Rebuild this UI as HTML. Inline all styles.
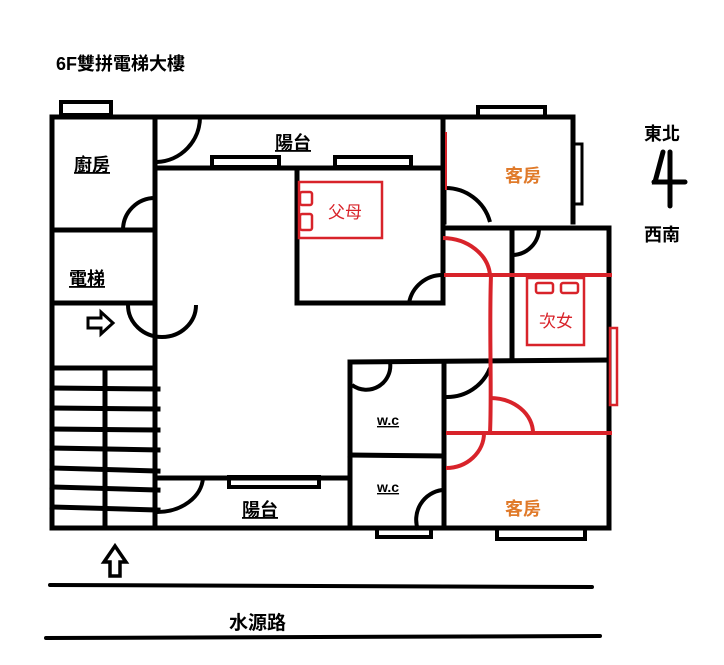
<!DOCTYPE html>
<html><head><meta charset="utf-8"><style>
html,body{margin:0;padding:0;background:#fff;}
svg{display:block;}
text{font-family:"Liberation Sans","Noto Sans CJK TC",sans-serif;}
</style></head><body>
<svg width="724" height="665" viewBox="0 0 724 665" xmlns="http://www.w3.org/2000/svg">
<rect width="724" height="665" fill="#fff"/>
<text x="56" y="70" font-size="18" font-weight="bold" fill="#000">6F雙拼電梯大樓</text>

<g fill="none" stroke="#000" stroke-width="5" stroke-linecap="square">
<rect x="61" y="102" width="50" height="13" stroke-width="4"/>
<rect x="212" y="157" width="67" height="10" stroke-width="4"/>
<rect x="335" y="157" width="76" height="10" stroke-width="4"/>
<rect x="478" y="107" width="67" height="10" stroke-width="4"/>
<rect x="574" y="144" width="8" height="60" stroke-width="3"/>
<rect x="229" y="477" width="90" height="10" stroke-width="4"/>
<rect x="377" y="528" width="54" height="9" stroke-width="4"/>
<rect x="497" y="528" width="88" height="11" stroke-width="4"/>

<line x1="52" y1="117" x2="444" y2="117"/>
<line x1="52" y1="117" x2="52" y2="528"/>
<line x1="52" y1="528" x2="444" y2="528"/>
<line x1="155" y1="117" x2="155" y2="528"/>
<line x1="52" y1="230" x2="155" y2="230"/>
<line x1="52" y1="303" x2="155" y2="303"/>
<line x1="52" y1="368" x2="155" y2="368"/>
<line x1="105" y1="368" x2="105" y2="528"/>
<line x1="52" y1="388" x2="158" y2="389"/>
<line x1="52" y1="408" x2="158" y2="409"/>
<line x1="52" y1="429" x2="158" y2="430"/>
<line x1="52" y1="448" x2="158" y2="450"/>
<line x1="52" y1="468" x2="158" y2="471"/>
<line x1="52" y1="487" x2="158" y2="490"/>
<line x1="52" y1="507" x2="158" y2="510"/>

<line x1="155" y1="168" x2="444" y2="168"/>
<line x1="297" y1="170" x2="297" y2="303"/>
<line x1="297" y1="303" x2="443" y2="303"/>
<line x1="443" y1="117" x2="443" y2="303"/>

<line x1="444" y1="117" x2="573" y2="117"/>
<line x1="573" y1="117" x2="573" y2="222"/>
<line x1="444" y1="190" x2="444" y2="222"/>
<line x1="444" y1="228" x2="609" y2="228"/>
<line x1="609" y1="228" x2="609" y2="528"/>
<line x1="512" y1="228" x2="512" y2="358"/>

<line x1="350" y1="362" x2="609" y2="360"/>
<line x1="350" y1="362" x2="350" y2="528"/>
<line x1="350" y1="455" x2="444" y2="456"/>
<line x1="444" y1="362" x2="444" y2="528"/>
<line x1="155" y1="478" x2="350" y2="478"/>
<line x1="444" y1="528" x2="609" y2="528"/>
</g>

<g fill="none" stroke="#000" stroke-width="4">
<path d="M157 162 A45 45 0 0 0 200 117"/>
<path d="M155 198 A32 32 0 0 0 123 230"/>
<path d="M128 305 A34 32 0 0 0 196 305"/>
<path d="M157 512 A46 36 0 0 0 203 478"/>
<path d="M443 275 A34 34 0 0 0 409 303"/>
<path d="M444 188 A46 46 0 0 1 490 222"/>
<path d="M512 255 A27 27 0 0 0 539 228"/>
<path d="M352 385 A24 24 0 0 0 390 362"/>
<path d="M490 368 A46 46 0 0 1 446 397"/>
<path d="M442 490 A30 30 0 0 0 418 530"/>
</g>

<g fill="none" stroke="#d8232a" stroke-width="4">
<line x1="444" y1="275" x2="612" y2="275"/>
<line x1="446" y1="433" x2="612" y2="433"/>
<path d="M491 275 C489 330 492 390 490 433"/>
<path d="M443 238 A48 40 0 0 1 490 275"/>
<path d="M490 398 A43 35 0 0 1 533 433"/>
<path d="M446 468 A38 35 0 0 0 484 433"/>
<line x1="446" y1="132" x2="446" y2="190" stroke-width="2"/>
<rect x="299" y="182" width="83" height="56" stroke-width="2.5"/>
<rect x="300" y="192" width="12" height="13" rx="2" stroke-width="2.5"/>
<rect x="300" y="214" width="12" height="16" rx="2" stroke-width="2.5"/>
<rect x="527" y="278" width="57" height="67" stroke-width="2.5"/>
<rect x="536" y="283" width="17" height="10" rx="2" stroke-width="2.5"/>
<rect x="561" y="283" width="17" height="10" rx="2" stroke-width="2.5"/>
<rect x="610" y="328" width="7" height="77" stroke-width="2.5"/>
</g>
<text x="328" y="218" font-size="17" fill="#d8232a">父母</text>
<text x="539" y="327" font-size="17" fill="#d8232a">次女</text>

<g font-size="18" fill="#000" text-decoration="underline" font-weight="bold">
<text x="275" y="149">陽台</text>
<text x="74" y="171">廚房</text>
<text x="69" y="285">電梯</text>
<text x="242" y="516">陽台</text>
</g>
<text x="377" y="425" font-size="14" font-weight="bold" text-decoration="underline">w.c</text>
<text x="377" y="492" font-size="14" font-weight="bold" text-decoration="underline">w.c</text>
<text x="505" y="182" font-size="18" fill="#e07a2a" font-weight="bold">客房</text>
<text x="505" y="515" font-size="18" fill="#e07a2a" font-weight="bold">客房</text>

<path d="M88 318 H101 V312 L113 323 L101 334 V328 H88 Z" fill="none" stroke="#000" stroke-width="3"/>
<path d="M104 562 L115 546 L126 562 H120 V576 H110 V562 Z" fill="none" stroke="#000" stroke-width="3.5"/>

<line x1="50" y1="585" x2="592" y2="587" stroke="#000" stroke-width="4" stroke-linecap="round"/>
<line x1="46" y1="638" x2="600" y2="636" stroke="#000" stroke-width="4" stroke-linecap="round"/>
<text x="229" y="629" font-size="19" font-weight="bold">水源路</text>

<text x="644" y="140" font-size="18" font-weight="bold">東北</text>
<text x="644" y="241" font-size="18" font-weight="bold">西南</text>
<g stroke="#000" stroke-width="5" fill="none" stroke-linecap="round">
<path d="M663 152 L655 182 H670"/>
<line x1="670" y1="152" x2="670" y2="206"/>
<line x1="654" y1="182" x2="685" y2="182"/>
</g>
</svg>
</body></html>
